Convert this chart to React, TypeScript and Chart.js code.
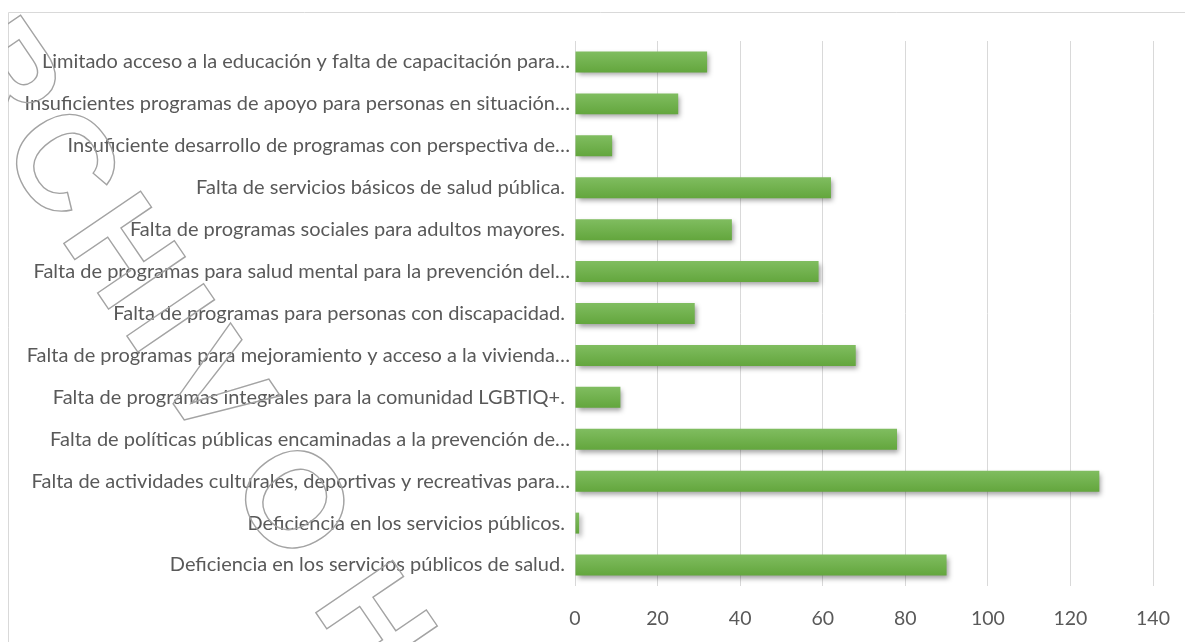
import React, { useEffect, useRef } from "react";
import { Chart, registerables } from "chart.js";

Chart.register(...registerables);

const categories: string[] = [
  "Limitado acceso a la educación y falta de capacitación para…",
  "Insuficientes programas de apoyo para personas en situación…",
  "Insuficiente desarrollo de programas con perspectiva de…",
  "Falta de servicios básicos de salud pública. ",
  "Falta de programas sociales para adultos mayores. ",
  "Falta de programas para salud mental para la prevención del…",
  "Falta de programas para personas con discapacidad. ",
  "Falta de programas para mejoramiento y acceso a la vivienda…",
  "Falta de programas integrales para la comunidad LGBTIQ+. ",
  "Falta de políticas públicas encaminadas a la prevención de…",
  "Falta de actividades culturales, deportivas y recreativas para…",
  "Deficiencia en los servicios públicos. ",
  "Deficiencia en los servicios públicos de salud. ",
];

const values: number[] = [32, 25, 9, 62, 38, 59, 29, 68, 11, 78, 127, 1, 90];

const xMin = 0;
const xMax = 140;
const xStep = 20;

const watermarkLetters: string[] = ["R", "C", "H", "I", "V", "O", "H"];
const watermarkOffsets: number[] = [-105, 0, 108, 190, 272, 410, 555];

const FONT = "Lato, sans-serif";
const TEXT_COLOR = "#595959";
const GRID_COLOR = "#d9d9d9";

export default function App() {
  const ref = useRef<HTMLCanvasElement>(null);

  useEffect(() => {
    const canvas = ref.current;
    if (!canvas) return;

    const framePlugin = {
      id: "frame",
      beforeDraw(chart: any) {
        const c = chart.ctx;
        c.save();
        c.strokeStyle = GRID_COLOR;
        c.lineWidth = 1;
        c.beginPath();
        c.moveTo(0.5, chart.height);
        c.lineTo(0.5, 4.5);
        c.lineTo(chart.width, 4.5);
        c.stroke();
        c.restore();
      },
    };

    const shadowPlugin = {
      id: "barShadow",
      beforeDatasetsDraw(chart: any) {
        const c = chart.ctx;
        c.save();
        c.shadowColor = "rgba(0,0,0,0.38)";
        c.shadowBlur = 5;
        c.shadowOffsetX = 2;
        c.shadowOffsetY = 3;
      },
      afterDatasetsDraw(chart: any) {
        chart.ctx.restore();
      },
    };

    const watermarkPlugin = {
      id: "watermark",
      afterDraw(chart: any) {
        const c = chart.ctx;
        const angle = (55.7 * Math.PI) / 180;
        const dx = Math.cos(angle);
        const dy = Math.sin(angle);
        const cx0 = 57;
        const cy0 = 152;
        c.save();
        c.font = "bold 135px 'Liberation Sans', sans-serif";
        c.textAlign = "center";
        c.textBaseline = "alphabetic";
        c.strokeStyle = "#a3a3a3";
        c.lineWidth = 1.4;
        watermarkLetters.forEach((ch, i) => {
          const off = watermarkOffsets[i];
          c.save();
          c.translate(cx0 + dx * off, cy0 + dy * off);
          c.rotate(angle);
          c.strokeText(ch, 0, 48);
          c.restore();
        });
        c.restore();
      },
    };

    const chart = new Chart(canvas, {
      type: "bar",
      data: {
        labels: categories,
        datasets: [
          {
            data: values,
            backgroundColor: (ctx: any) => {
              const ch = ctx.chart;
              const y = ch.scales && ch.scales.y;
              if (!y || ctx.dataIndex === undefined) return "#70ad47";
              const center = y.getPixelForValue(ctx.dataIndex);
              const half = ((y.height / categories.length) * 0.5) / 2;
              if (!isFinite(center) || !isFinite(half) || half <= 0) return "#70ad47";
              const g = ch.ctx.createLinearGradient(0, center - half, 0, center + half);
              g.addColorStop(0, "#80bd60");
              g.addColorStop(1, "#63a63d");
              return g;
            },
            borderWidth: 0,
            barPercentage: 0.5,
            categoryPercentage: 1,
          },
        ],
      },
      options: {
        indexAxis: "y",
        responsive: false,
        animation: false,
        devicePixelRatio: 1,
        layout: { padding: { top: 33, right: 40, left: 0, bottom: 0 } },
        plugins: {
          legend: { display: false },
          tooltip: { enabled: false },
        },
        scales: {
          x: {
            min: xMin,
            max: xMax,
            ticks: {
              stepSize: xStep,
              color: TEXT_COLOR,
              font: { family: FONT, size: 19.5 },
              padding: 21,
            },
            grid: { color: GRID_COLOR, lineWidth: 1, drawTicks: false },
            border: { display: false },
            afterFit(s: any) {
              s.height = 56;
            },
          },
          y: {
            grid: { display: false, drawTicks: false },
            border: { display: false },
            ticks: {
              color: TEXT_COLOR,
              font: { family: FONT, size: 20 },
              padding: 5,
              autoSkip: false,
            },
            afterFit(s: any) {
              s.width = 567;
            },
          },
        },
      },
      plugins: [framePlugin, shadowPlugin, watermarkPlugin],
    } as any);

    return () => chart.destroy();
  }, []);

  return (
    <div style={{ width: 1185, height: 634, overflow: "hidden" }}>
      <canvas ref={ref} width={1185} height={634} style={{ display: "block" }} />
    </div>
  );
}
